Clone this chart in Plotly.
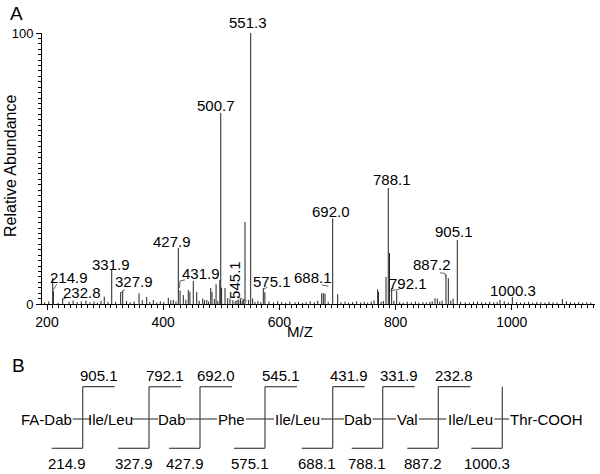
import plotly.graph_objects as go

# ---------------- Panel A data: stick spectrum ----------------
peak_mz = [209.8, 211.0, 227.0, 267.0, 298.6, 311.4, 326.8, 330.3, 358.4, 371.6,
           383.0, 408.8, 417.4, 426.0, 429.0, 434.6, 443.2, 446.0, 451.8, 457.7,
           475.0, 481.8, 484.0, 491.0, 497.5, 499.0, 500.5, 506.4, 515.0, 527.0,
           533.0, 538.0, 540.8, 550.6, 554.0, 572.3, 575.0, 672.8, 675.6, 678.5,
           691.7, 700.3, 769.2, 770.5, 783.5, 787.4, 789.5, 793.2, 801.9, 867.8,
           871.8, 886.7, 890.7, 899.0, 906.2, 979.7, 1000.9, 1087.0]
peak_int = [9.6, 4.8, 2.2, 1.2, 2.7, 12.5, 4.4, 5.0, 4.0, 2.6,
            1.5, 2.3, 1.5, 20.7, 5.0, 3.3, 5.2, 4.5, 8.5, 4.4,
            1.5, 5.9, 4.5, 7.3, 8.9, 70.5, 6.0, 5.9, 2.0, 1.5,
            1.8, 1.5, 30.3, 100.0, 2.0, 5.9, 4.4, 3.9, 4.0, 3.8,
            31.6, 3.6, 5.4, 4.5, 10.0, 42.8, 18.8, 5.9, 4.8, 2.1,
            2.0, 11.0, 9.5, 2.0, 23.6, 1.5, 2.6, 1.8]

noise_mz = [196, 203, 219, 238, 245, 252, 259, 274, 281, 287, 293, 305, 318, 337,
            343, 350, 364, 377, 389, 395, 401, 413, 422, 439, 462, 468, 471, 478,
            488, 494, 511, 520, 524, 530, 536, 547, 558, 563, 568, 582, 590, 597,
            604, 611, 618, 627, 633, 640, 646, 653, 660, 666, 684, 706, 713, 719,
            726, 733, 740, 746, 752, 758, 763, 775, 779, 797, 807, 813, 820, 827,
            834, 840, 847, 853, 859, 863, 876, 880, 895, 912, 920, 927, 934, 941,
            948, 955, 962, 969, 975, 987, 994, 1008, 1015, 1022, 1029, 1036, 1043,
            1050, 1057, 1064, 1071, 1078, 1094, 1101, 1108, 1115, 1122, 1129, 1136]
noise_int = [0.6, 0.9, 0.5, 0.8, 1.3, 0.7, 1.0, 0.6, 0.9, 0.5, 1.2, 0.7, 0.8, 1.1,
             0.6, 0.9, 1.4, 0.8, 0.6, 1.0, 0.7, 1.3, 0.9, 1.6, 1.2, 2.0, 1.4, 0.9,
             1.8, 1.1, 2.2, 1.4, 1.0, 1.6, 1.2, 1.5, 0.8, 1.1, 0.7, 0.9, 0.6, 1.0,
             0.7, 0.5, 0.9, 0.6, 0.8, 0.5, 0.7, 1.0, 0.6, 1.2, 0.8, 0.6, 0.9, 0.5,
             0.7, 1.0, 0.6, 0.8, 0.5, 0.9, 1.3, 0.8, 1.1, 1.2, 0.7, 0.5, 0.8, 0.6,
             0.9, 0.5, 0.7, 0.6, 0.8, 1.0, 0.9, 1.2, 1.3, 0.8, 0.6, 0.5, 0.7, 0.9,
             0.6, 0.5, 0.8, 0.6, 0.7, 1.0, 0.6, 0.7, 0.5, 0.6, 0.8, 0.5, 0.7,
             0.6, 0.5, 0.8, 0.6, 0.5, 1.0, 0.6, 0.5, 0.7, 0.5, 0.6, 0.5]

# annotated peak labels: text, label centre (m/z, abundance)
label_text = ["214.9", "232.8", "331.9", "327.9", "427.9", "431.9", "500.7", "551.3",
              "545.1", "575.1", "688.1", "692.0", "788.1", "792.1", "887.2", "905.1", "1000.3"]
label_mz = [237.9, 259.7, 310.2, 349.7, 416.0, 465.0, 490.9, 545.1,
            523.6, 586.7, 658.3, 688.0, 793.8, 821.9, 863.5, 900.2, 1001.2]
label_y = [9.6, 4.2, 14.4, 8.2, 23.0, 11.4, 73.4, 100.0,
           8.9, 8.2, 9.9, 34.1, 45.8, 7.6, 14.4, 26.7, 4.9]

# leader lines (m/z, abundance polylines)
leaders = [
    [(216.7, 7.3), (210.8, 5.2)],
    [(227.0, 1.7), (233.9, 2.3)],
    [(325.8, 3.9), (334.4, 5.4)],
    [(437.5, 8.9), (429.0, 8.5), (428.0, 5.9)],
    [(526.5, 2.7), (543.7, 1.2)],
    [(572.3, 5.4), (579.2, 6.2)],
    [(672.8, 7.0), (684.2, 6.6)],
    [(790.4, 4.9), (806.4, 5.4)],
    [(876.4, 11.5), (885.0, 11.3), (886.7, 9.6)],
]

# ---------------- Panel B data: fragmentation scheme ----------------
residues = ["FA-Dab", "Ile/Leu", "Dab", "Phe", "Ile/Leu", "Dab", "Val", "Ile/Leu", "Thr-COOH"]
top_ions = ["905.1", "792.1", "692.0", "545.1", "431.9", "331.9", "232.8", ""]
bottom_ions = ["214.9", "327.9", "427.9", "575.1", "688.1", "788.1", "887.2", "1000.3"]

# diagram layout (pixel-like coordinates of the scheme axes)
res_left = [21.7, 91.7, 159, 218, 275, 345, 397, 447.3, 510]
res_right = [71.7, 130, 185, 245, 320, 371.7, 418, 493.3, 583.3]
cut_x = [82.7, 149, 200, 265, 332.7, 382.7, 438.3, 502.3]
TOP_LEN, BOT_LEN = 32, 31
Y_TOP, Y_BOT, Y_MID, Y_TOPLAB, Y_BOTLAB = 386.7, 448.3, 419, 375, 463

FONT = "Liberation Sans, Arial, sans-serif"
W, H = 600, 474
L, R, T, B = 42, 5, 33, 0
PH = H - T - B
ydom0 = 170 / PH

fig = go.Figure()

xs, ys = [], []
for m, h in zip(noise_mz + peak_mz, noise_int + peak_int):
    xs += [m, m, None]
    ys += [0, h, None]
fig.add_trace(go.Scatter(x=xs, y=ys, mode="lines", line=dict(color="#222", width=1),
                         hoverinfo="skip", showlegend=False, xaxis="x", yaxis="y"))


def txt(**kw):
    d = dict(showarrow=False, xanchor="center", yanchor="middle",
             font=dict(family=FONT, size=15, color="black"))
    d.update(kw)
    return d


annotations = []
for t, mx, my in zip(label_text, label_mz, label_y):
    a = txt(x=mx, y=my, xref="x", yref="y", text=t)
    if t == "551.3":
        a.update(yanchor="bottom")
    if t == "545.1":
        a.update(textangle=-90)
    annotations.append(a)

shapes = []
for pts in leaders:
    for (x0, y0), (x1, y1) in zip(pts[:-1], pts[1:]):
        shapes.append(dict(type="line", xref="x", yref="y", x0=x0, y0=y0, x1=x1, y1=y1,
                           line=dict(color="#666", width=1)))

# Panel B
LC = dict(color="#444", width=1.2)
for i, r in enumerate(residues):
    annotations.append(txt(x=(res_left[i] + res_right[i]) / 2, y=Y_MID, xref="x2", yref="y2", text=r))
for i in range(len(residues) - 1):
    shapes.append(dict(type="line", xref="x2", yref="y2", x0=res_right[i] + 1, x1=res_left[i + 1] - 1,
                       y0=Y_MID, y1=Y_MID, line=LC))
for i, cx in enumerate(cut_x):
    shapes.append(dict(type="line", xref="x2", yref="y2", x0=cx, x1=cx, y0=Y_TOP, y1=Y_BOT, line=LC))
    shapes.append(dict(type="line", xref="x2", yref="y2", x0=cx - BOT_LEN, x1=cx, y0=Y_BOT, y1=Y_BOT, line=LC))
    annotations.append(txt(x=cx - BOT_LEN / 2, y=Y_BOTLAB, xref="x2", yref="y2", text=bottom_ions[i]))
    if top_ions[i]:
        shapes.append(dict(type="line", xref="x2", yref="y2", x0=cx, x1=cx + TOP_LEN, y0=Y_TOP, y1=Y_TOP, line=LC))
        annotations.append(txt(x=cx + TOP_LEN / 2, y=Y_TOPLAB, xref="x2", yref="y2", text=top_ions[i]))


def px(xp):
    return (xp - L) / (W - L - R)


def py(yp):
    return (H - B - yp) / PH


annotations += [
    txt(x=px(16), y=py(13), xref="paper", yref="paper", text="A",
        font=dict(family=FONT, size=19, color="black")),
    txt(x=px(18), y=py(365), xref="paper", yref="paper", text="B",
        font=dict(family=FONT, size=19, color="black")),
    txt(x=px(10), y=py(166), xref="paper", yref="paper", text="Relative Abundance", textangle=-90,
        font=dict(family=FONT, size=16, color="black")),
    txt(x=px(300), y=py(331), xref="paper", yref="paper", text="M/Z",
        font=dict(family=FONT, size=15, color="black")),
]

# invisible trace to activate the scheme axes
fig.add_trace(go.Scatter(x=[None], y=[None], xaxis="x2", yaxis="y2", showlegend=False, hoverinfo="skip"))

fig.update_layout(
    width=W, height=H, margin=dict(l=L, r=R, t=T, b=B, autoexpand=False),
    paper_bgcolor="white", plot_bgcolor="white", showlegend=False,
    xaxis=dict(domain=[0, 1], anchor="y", range=[191.4, 1143.2], showgrid=False, zeroline=False,
               automargin=False,
               showline=True, linecolor="black", linewidth=1,
               tickmode="linear", tick0=200, dtick=200, ticks="outside", ticklen=5,
               tickcolor="black", tickfont=dict(family=FONT, size=14, color="black"),
               minor=dict(dtick=10, tick0=200, ticks="outside", ticklen=3, tickcolor="black")),
    yaxis=dict(domain=[ydom0, 1], anchor="x", range=[0, 100], showgrid=False, zeroline=False,
               automargin=False,
               showline=True, linecolor="black", linewidth=1,
               tickmode="linear", tick0=0, dtick=100, ticks="outside", ticklen=5,
               tickcolor="black", tickfont=dict(family=FONT, size=13, color="black"),
               minor=dict(dtick=2, ticks="outside", ticklen=3, tickcolor="black")),
    xaxis2=dict(domain=[0, 1], anchor="y2", range=[L, W - R], visible=False, automargin=False),
    yaxis2=dict(domain=[0, (H - B - 315) / PH], anchor="x2", range=[H - B, 315], visible=False,
                automargin=False),
    annotations=annotations, shapes=shapes,
)

fig.write_html("out.html", config={"displayModeBar": False},
               post_script="document.body.style.margin='0px';document.body.style.overflow='hidden';")
